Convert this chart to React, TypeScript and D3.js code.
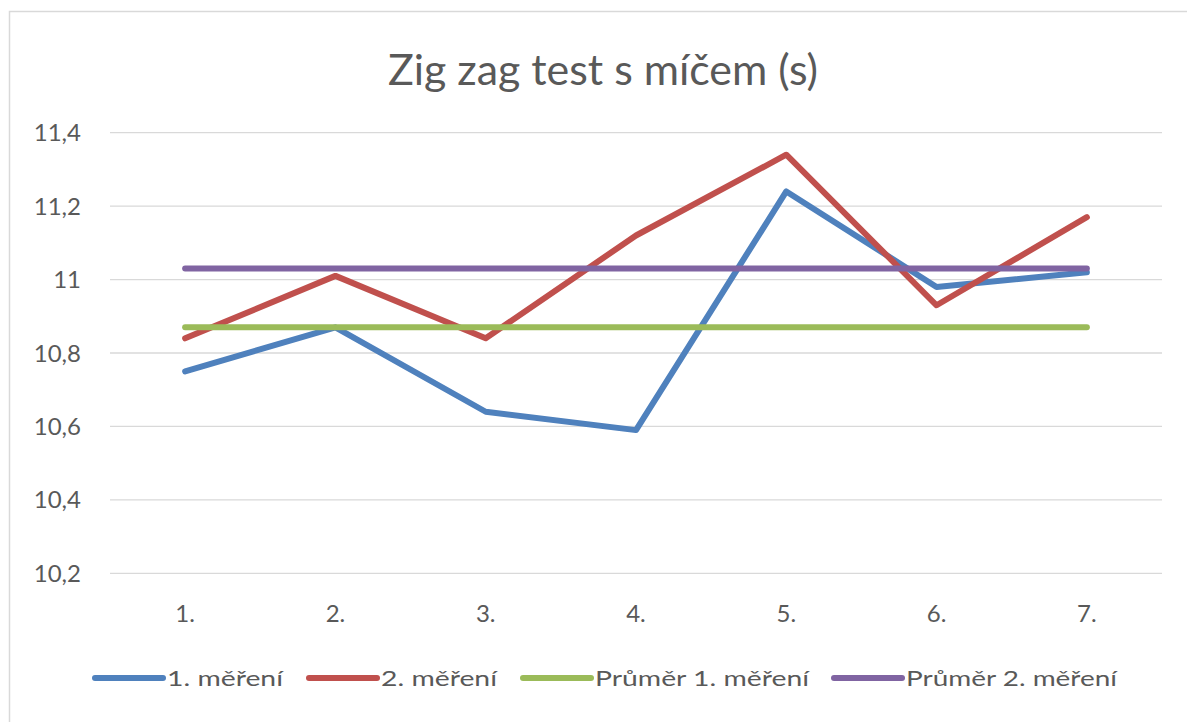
import React, { useEffect, useRef } from "react";
import * as d3 from "d3";

const categories = ["1.", "2.", "3.", "4.", "5.", "6.", "7."];
const mereni1 = [10.75, 10.87, 10.64, 10.59, 11.24, 10.98, 11.02];
const mereni2 = [10.84, 11.01, 10.84, 11.12, 11.34, 10.93, 11.17];
const prumer1 = [10.87, 10.87, 10.87, 10.87, 10.87, 10.87, 10.87];
const prumer2 = [11.03, 11.03, 11.03, 11.03, 11.03, 11.03, 11.03];
const seriesNames = ["1. měření", "2. měření", "Průměr 1. měření", "Průměr 2. měření"];
const seriesColors = ["#4F81BD", "#C0504D", "#9BBB59", "#8064A2"];
const yTicks = [10.2, 10.4, 10.6, 10.8, 11, 11.2, 11.4];
const title = "Zig zag test s míčem (s)";

const W = 1187;
const H = 722;
const FONT = "Lato, 'Open Sans', sans-serif";
const TEXT = "#595959";

export default function App() {
  const ref = useRef<SVGSVGElement | null>(null);

  useEffect(() => {
    const svg = d3.select(ref.current);
    svg.selectAll("*").remove();

    const x = d3.scalePoint<string>().domain(categories).range([110, 1162]).padding(0.5);
    const y = d3.scaleLinear().domain([10.2, 11.4]).range([573.3, 132.7]);

    svg.append("rect")
      .attr("x", 9.5).attr("y", 11.5)
      .attr("width", 1200).attr("height", 730)
      .attr("fill", "#fff").attr("stroke", "#d9d9d9").attr("stroke-width", 1.5);

    svg.append("text")
      .attr("x", 603).attr("y", 85)
      .attr("text-anchor", "middle")
      .attr("font-family", FONT).attr("font-size", 42)
      .attr("fill", TEXT)
      .attr("textLength", 430).attr("lengthAdjust", "spacingAndGlyphs")
      .text(title);

    svg.append("g").selectAll("line").data(yTicks).join("line")
      .attr("x1", 110).attr("x2", 1162)
      .attr("y1", (d) => y(d)).attr("y2", (d) => y(d))
      .attr("stroke", "#d9d9d9").attr("stroke-width", 1.3);

    svg.append("g").selectAll("text").data(yTicks).join("text")
      .attr("x", 81).attr("y", (d) => y(d) + 8.5)
      .attr("text-anchor", "end")
      .attr("font-family", FONT).attr("font-size", 24)
      .attr("fill", TEXT)
      .text((d) => d3.format("~g")(d).replace(".", ","));

    svg.append("g").selectAll("text").data(categories).join("text")
      .attr("x", (d) => x(d)!).attr("y", 622)
      .attr("text-anchor", "middle")
      .attr("font-family", FONT).attr("font-size", 24)
      .attr("fill", TEXT)
      .text((d) => d);

    const all = [mereni1, mereni2, prumer1, prumer2];
    const line = d3.line<number>()
      .x((_, i) => x(categories[i])!)
      .y((d) => y(d));

    svg.append("g").selectAll("path").data(all).join("path")
      .attr("d", (d) => line(d))
      .attr("fill", "none")
      .attr("stroke", (_, i) => seriesColors[i])
      .attr("stroke-width", 6)
      .attr("stroke-linecap", "round")
      .attr("stroke-linejoin", "round");

    const lg = svg.append("g");
    const itemX = [95, 309, 523, 834];
    const textW = [116, 116, 214, 211];
    seriesNames.forEach((name, i) => {
      lg.append("line")
        .attr("x1", itemX[i]).attr("x2", itemX[i] + 68)
        .attr("y1", 678).attr("y2", 678)
        .attr("stroke", seriesColors[i]).attr("stroke-width", 6)
        .attr("stroke-linecap", "round");
      lg.append("text")
        .attr("x", itemX[i] + 72).attr("y", 686)
        .attr("font-family", FONT).attr("font-size", 22)
        .attr("fill", TEXT)
        .attr("textLength", textW[i]).attr("lengthAdjust", "spacingAndGlyphs")
        .text(name);
    });
  }, []);

  return (
    <svg
      ref={ref}
      width={W}
      height={H}
      style={{ position: "fixed", left: 0, top: 0, background: "#fff" }}
    />
  );
}
